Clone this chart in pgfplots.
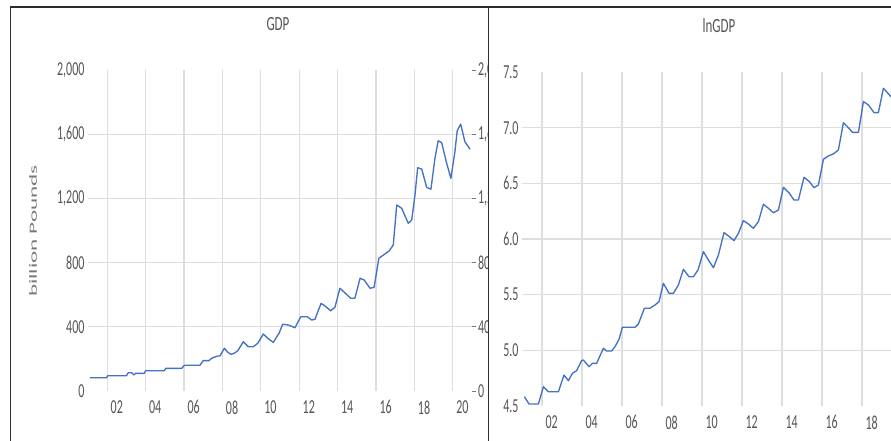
\documentclass[border=0pt]{standalone}
\usepackage{fontspec}
\setmainfont{Carlito}
\usepackage{graphicx}
\usepackage{pgfplots}
\pgfplotsset{compat=1.18}
\usepackage{pgfplotstable}

\definecolor{lineblue}{RGB}{68,114,196}
\definecolor{gridc}{RGB}{222,222,222}
\definecolor{labelc}{RGB}{85,85,85}
\definecolor{axlabc}{RGB}{120,120,120}
\definecolor{framec}{RGB}{45,45,45}

\newcommand{\vs}[1]{\scalebox{1}[1.65]{#1}}

% GDP, billion pounds
\pgfplotstableread{
t v
2001.10 83
2001.97 83
2002.03 95
2003.00 95
2003.10 114
2003.27 114
2003.40 100
2003.48 110
2003.93 110
2004.00 126
2004.97 126
2005.05 141
2005.88 141
2006.02 160
2006.83 160
2007.00 189
2007.30 189
2007.44 204
2007.75 218
2007.87 218
2008.10 266
2008.30 239
2008.45 229
2008.62 235
2008.80 251
2009.09 307
2009.35 276
2009.61 276
2009.84 297
2010.13 355
2010.36 328
2010.65 303
2010.95 360
2011.14 416
2011.45 411
2011.78 394
2012.08 463
2012.42 463
2012.65 442
2012.82 447
2013.14 546
2013.34 530
2013.64 500
2013.86 521
2014.12 640
2014.38 612
2014.68 578
2014.90 578
2015.17 702
2015.38 692
2015.69 640
2015.90 646
2016.15 827
2016.42 850
2016.68 872
2016.90 910
2017.08 1159
2017.34 1138
2017.68 1045
2017.86 1065
2018.03 1221
2018.17 1391
2018.38 1383
2018.64 1269
2018.86 1257
2019.07 1450
2019.24 1559
2019.42 1547
2019.68 1419
2019.90 1325
2020.11 1491
2020.23 1622
2020.41 1663
2020.63 1553
2020.90 1506
}\gdptable

% log of GDP
\pgfplotstableread{
t v
2001.12 4.584
2001.35 4.518
2001.82 4.518
2002.07 4.673
2002.32 4.628
2002.82 4.628
2003.10 4.778
2003.32 4.727
2003.52 4.794
2003.73 4.817
2003.98 4.907
2004.07 4.913
2004.35 4.853
2004.52 4.883
2004.73 4.883
2005.07 5.018
2005.23 4.994
2005.48 4.994
2005.65 5.033
2005.85 5.099
2006.02 5.207
2006.65 5.207
2006.82 5.237
2007.12 5.378
2007.40 5.378
2007.65 5.407
2007.85 5.437
2008.07 5.602
2008.35 5.512
2008.57 5.512
2008.82 5.587
2009.07 5.728
2009.35 5.661
2009.57 5.661
2009.80 5.722
2010.07 5.886
2010.32 5.811
2010.57 5.742
2010.82 5.856
2011.10 6.057
2011.37 6.021
2011.60 5.985
2011.82 6.051
2012.07 6.165
2012.32 6.135
2012.57 6.096
2012.82 6.156
2013.07 6.312
2013.32 6.276
2013.57 6.236
2013.82 6.260
2014.07 6.464
2014.37 6.410
2014.60 6.350
2014.82 6.350
2015.10 6.554
2015.37 6.515
2015.60 6.461
2015.82 6.485
2016.07 6.716
2016.32 6.746
2016.57 6.764
2016.82 6.800
2017.07 7.045
2017.27 7.009
2017.53 6.958
2017.82 6.958
2018.07 7.234
2018.32 7.204
2018.60 7.135
2018.82 7.135
2019.07 7.354
2019.45 7.278
2019.70 7.260
2019.90 7.190
}\lntable

\pgfplotsset{
  panel/.style={
    scale only axis,
    anchor=south west,
    axis line style={draw=none},
    major tick length=0pt,
    xmin=2001, xmax=2021,
    xtick={2002,2004,...,2020},
    xmajorgrids, ymajorgrids,
    grid style={gridc, line width=1.1pt},
    extra y tick style={grid=none},
    ticklabel style={font=\fontsize{12}{14}\selectfont, text=labelc},
    xticklabel style={xshift=9.6pt, yshift=-6pt},
    /pgf/number format/assume math mode=true,
  },
  dataline/.style={lineblue, line width=1.35pt, line join=round}
}

\begin{document}
\begin{tikzpicture}
\useasboundingbox (0pt,0pt) rectangle (891pt,441pt);
\clip (0pt,0pt) rectangle (891pt,441pt);

% left panel: GDP
\begin{scope}
\clip (0pt,0pt) rectangle (488.5pt,441pt);
\begin{axis}[panel,
  at={(88pt,50pt)}, width=384pt, height=321pt,
  ymin=0, ymax=2000,
  xticklabels={\vs{02},\vs{04},\vs{06},\vs{08},\vs{10},\vs{12},\vs{14},\vs{16},\vs{18},\vs{20}},
  ytick={400,800,1200,1600}, extra y ticks={0,2000},
  yticklabel={\vs{\pgfmathprintnumber{\tick}}},
  /pgf/number format/.cd, 1000 sep={,}]
\addplot[dataline] table[x=t, y=v] {\gdptable};
\end{axis}
% secondary scale on the right edge of the panel
\begin{axis}[scale only axis, anchor=south west,
  at={(88pt,50pt)}, width=384pt, height=321pt,
  xmin=2001, xmax=2021, ymin=0, ymax=2000,
  axis x line=none, axis y line*=right,
  axis line style={draw=none},
  ytick={0,400,...,2000},
  tick align=outside, major tick length=3.5pt,
  tick style={axlabc, line width=0.8pt},
  yticklabel style={font=\fontsize{12}{14}\selectfont, text=labelc, anchor=west, xshift=-1pt},
  yticklabel={\vs{\pgfmathprintnumber{\tick}}},
  /pgf/number format/assume math mode=true,
  /pgf/number format/.cd, 1000 sep={,}]
\addplot[draw=none] coordinates {(2001,0)};
\end{axis}
\node[font=\fontsize{13}{15}\selectfont, text=labelc] at (278pt,417pt) {\scalebox{1}[1.55]{GDP}};
\node[font=\fontsize{11}{13}\selectfont, text=axlabc, rotate=90] at (33pt,210pt) {\scalebox{2.1}[1]{billion Pounds}};
\end{scope}

% right panel: lnGDP
\begin{axis}[panel,
  at={(522pt,35pt)}, width=400pt, height=334pt,
  ymin=4.5, ymax=7.5,
  xticklabels={\vs{02},\vs{04},\vs{06},\vs{08},\vs{10},\vs{12},\vs{14},\vs{16},\vs{18},{}},
  ytick={5,5.5,6,6.5,7}, extra y ticks={4.5,7.5},
  yticklabel={\vs{\pgfmathprintnumber[fixed, fixed zerofill, precision=1]{\tick}}}]
\addplot[dataline] table[x=t, y=v] {\lntable};
\end{axis}
\node[font=\fontsize{13}{15}\selectfont, text=labelc] at (719pt,415pt) {\scalebox{1}[1.55]{lnGDP}};

% panel frames
\draw[framec, line width=1.6pt] (10.5pt,0pt) -- (10.5pt,434pt) -- (891pt,434pt);
\draw[framec, line width=1.4pt] (488.5pt,0pt) -- (488.5pt,434pt);
\end{tikzpicture}
\end{document}
